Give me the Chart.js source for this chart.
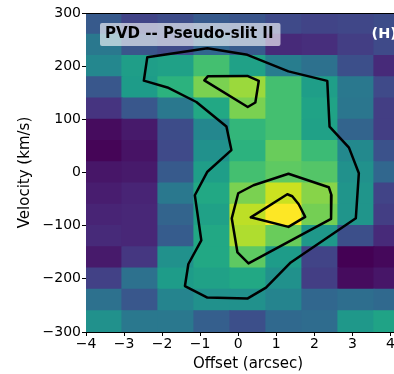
<!DOCTYPE html>
<html>
<head>
<meta charset="utf-8">
<script src="https://cdn.jsdelivr.net/npm/chart.js@4.4.1/dist/chart.umd.min.js"></script>
<style>
    html, body { margin: 0; padding: 0; background: #fff; overflow: hidden; }
    #wrap { width: 394px; height: 374px; overflow: hidden; }
</style>
</head>
<body>
<div id="wrap"><canvas id="chart" width="420" height="374"></canvas></div>
<script>
    /*
    ----------------------------------
         Data: PV diagram pixels
    ----------------------------------
    */

    // column centres (arcsec) and row centres (km/s) of the pixel grid
    var offsets = [-3.527, -2.581, -1.635, -0.689, 0.257, 1.203, 2.149, 3.095, 4.041];
    var offsetStep = 0.946;
    var velocities = [280, 240, 200, 160, 120, 80, 40, 0, -40, -80, -120, -160, -200, -240, -280];
    var velocityStep = 40;

    // normalised flux, one row per velocity (top row first)
    var flux = [
        [0.28, 0.20, 0.23, 0.28, 0.26, 0.22, 0.20, 0.21, 0.23],
        [0.40, 0.26, 0.22, 0.33, 0.28, 0.12, 0.13, 0.18, 0.22],
        [0.46, 0.56, 0.57, 0.70, 0.57, 0.42, 0.37, 0.24, 0.12],
        [0.27, 0.55, 0.64, 0.80, 0.85, 0.70, 0.56, 0.40, 0.22],
        [0.15, 0.27, 0.40, 0.60, 0.80, 0.70, 0.58, 0.39, 0.18],
        [0.03, 0.07, 0.23, 0.46, 0.66, 0.70, 0.57, 0.32, 0.18],
        [0.01, 0.05, 0.22, 0.50, 0.64, 0.77, 0.68, 0.47, 0.25],
        [0.06, 0.07, 0.28, 0.56, 0.70, 0.75, 0.73, 0.50, 0.33],
        [0.08, 0.10, 0.40, 0.60, 0.80, 0.92, 0.82, 0.52, 0.20],
        [0.10, 0.11, 0.32, 0.57, 0.90, 1.00, 0.79, 0.52, 0.18],
        [0.12, 0.11, 0.29, 0.60, 0.88, 0.77, 0.53, 0.24, 0.12],
        [0.07, 0.16, 0.50, 0.60, 0.75, 0.55, 0.20, 0.00, 0.02],
        [0.19, 0.37, 0.55, 0.57, 0.60, 0.50, 0.18, 0.03, 0.06],
        [0.37, 0.27, 0.45, 0.50, 0.50, 0.45, 0.33, 0.36, 0.34],
        [0.50, 0.40, 0.40, 0.30, 0.24, 0.34, 0.35, 0.53, 0.58]
    ];

    // contour levels, traced as closed polygons
    var outerX = [-2.39, -0.81, 0.24, 1.32, 2.34, 2.40, 2.91, 3.17, 3.09, 1.38, 0.73, 0.24, -0.81, -1.40, -1.31, -0.97, -1.14, -0.81, -0.18, -0.31, -0.81, -1.10, -1.86, -2.48, -2.39];
    var outerY = [216.6, 233.6, 221.3, 190.2, 172.3, 86.4, 46.8, -1.3, -86.2, -169.2, -216.4, -237.2, -235.3, -213.6, -172.1, -127.7, -42.8, 1.5, 42.1, 86.4, 115.7, 132.6, 160.0, 172.8, 216.6];

    var upperX = [-0.89, -0.80, 0.24, 0.54, 0.45, 0.25, -0.89];
    var upperY = [173.2, 180.8, 181.7, 172.3, 131.7, 123.2, 173.2];

    var middleX = [1.32, 2.38, 2.45, 2.44, 0.27, -0.02, -0.17, 0.00, 0.40, 1.32];
    var middleY = [-2.3, -27.7, -42.8, -87.2, -171.1, -150.4, -86.2, -39.0, -24.0, -2.3];

    var peakX = [0.33, 1.29, 1.42, 1.59, 1.76, 1.32, 0.33];
    var peakY = [-84.3, -40.9, -44.7, -59.8, -83.4, -102.3, -84.3];

    var xTicks = [-4, -3, -2, -1, 0, 1, 2, 3, 4];
    var yTicks = [-300, -200, -100, 0, 100, 200, 300];

    var panelLabel = 'PVD -- Pseudo-slit II';
    var panelTag = '(H)';

    /*
    ----------------------------------
         Colour map (viridis)
    ----------------------------------
    */

    var viridisStops = [
        '#440154', '#471365', '#482475', '#463480', '#414487', '#3b528b', '#355f8d',
        '#2f6c8e', '#2a788e', '#25848e', '#21918c', '#1e9c89', '#22a884', '#2fb47c',
        '#44bf70', '#5ec962', '#7ad151', '#9bd93c', '#bddf26', '#dfe318', '#fde725'
    ];

    function hexToRgb(hex) {
        var n = parseInt(hex.slice(1), 16);
        return [(n >> 16) & 255, (n >> 8) & 255, n & 255];
    }

    function viridis(v) {
        v = Math.max(0, Math.min(1, v));
        var pos = v * (viridisStops.length - 1);
        var i = Math.min(Math.floor(pos), viridisStops.length - 2);
        var t = pos - i;
        var a = hexToRgb(viridisStops[i]);
        var b = hexToRgb(viridisStops[i + 1]);
        var rgb = a.map((c, k) => Math.round(c + (b[k] - c) * t));
        return 'rgb(' + rgb.join(',') + ')';
    }

    /*
    ----------------------------------
         Datasets
    ----------------------------------
    */

    var cells = [];
    var cellColors = [];

    velocities.forEach((vel, r) => {
        offsets.forEach((off, c) => {
            cells.push({ x: off, y: [vel - velocityStep / 2, vel + velocityStep / 2] });
            cellColors.push(viridis(flux[r][c]));
        });
    });

    function contour(xs, ys) {
        return {
            type: 'line',
            data: xs.map((x, i) => ({ x: x, y: ys[i] })),
            borderColor: '#000',
            borderWidth: 2.5,
            borderJoinStyle: 'round',
            borderCapStyle: 'round',
            pointRadius: 0,
            fill: false,
            tension: 0,
            order: 1
        };
    }

    var minusSign = v => (v < 0 ? '\u2212' + Math.abs(v) : String(v));

    const annotations = {
        id: 'annotations',
        afterDatasetsDraw(chart) {
            const { ctx, chartArea } = chart;
            ctx.save();

            // top spine
            ctx.strokeStyle = '#000';
            ctx.lineWidth = 1;
            ctx.beginPath();
            ctx.moveTo(chartArea.left, chartArea.top + 0.5);
            ctx.lineTo(chartArea.right, chartArea.top + 0.5);
            ctx.stroke();

            // panel label in a translucent box
            ctx.font = 'bold 15px "DejaVu Sans"';
            const w = ctx.measureText(panelLabel).width;
            const bx = chartArea.left + 14;
            const by = chartArea.top + 10;
            ctx.fillStyle = 'rgba(255,255,255,0.62)';
            ctx.beginPath();
            ctx.roundRect(bx, by, w + 12, 23, 2);
            ctx.fill();
            ctx.fillStyle = '#000';
            ctx.textBaseline = 'middle';
            ctx.fillText(panelLabel, bx + 5, by + 11.5);

            ctx.font = 'bold 14.5px "DejaVu Sans"';
            ctx.fillStyle = '#fff';
            ctx.fillText(panelTag, chartArea.left + 285.5, chartArea.top + 21);
            ctx.restore();
        }
    };

    Chart.defaults.font.family = '"DejaVu Sans"';
    Chart.defaults.color = '#000';

    new Chart(document.getElementById('chart'), {
        type: 'bar',
        data: {
            datasets: [
                {
                    data: cells,
                    backgroundColor: cellColors,
                    borderWidth: 0,
                    barPercentage: 1,
                    categoryPercentage: 1,
                    inflateAmount: 0.6,
                    grouped: false,
                    order: 2
                },
                contour(outerX, outerY),
                contour(upperX, upperY),
                contour(middleX, middleY),
                contour(peakX, peakY)
            ]
        },
        options: {
            responsive: false,
            animation: false,
            events: [],
            layout: {
                padding: { top: 13, right: 10, left: 0, bottom: 0 }
            },
            plugins: {
                legend: { display: false },
                tooltip: { enabled: false }
            },
            scales: {
                x: {
                    type: 'linear',
                    min: -4,
                    max: -4 + offsets.length * offsetStep,
                    offset: false,
                    z: 1,
                    afterBuildTicks: scale => { scale.ticks = xTicks.map(v => ({ value: v })); },
                    afterFit: scale => { scale.height = 42; },
                    grid: {
                        display: true,
                        offset: false,
                        drawOnChartArea: false,
                        drawTicks: true,
                        tickLength: 4,
                        color: '#000'
                    },
                    border: { display: true, color: '#000', width: 1 },
                    ticks: {
                        padding: 0,
                        maxRotation: 0,
                        autoSkip: false,
                        font: { size: 14 },
                        callback: minusSign
                    },
                    title: {
                        display: true,
                        text: 'Offset (arcsec)',
                        font: { size: 15 },
                        padding: { top: 0, bottom: 1 }
                    }
                },
                y: {
                    type: 'linear',
                    min: -300,
                    max: 300,
                    z: 1,
                    afterBuildTicks: scale => { scale.ticks = yTicks.map(v => ({ value: v })); },
                    afterFit: scale => { scale.width = 86; },
                    grid: {
                        display: true,
                        drawOnChartArea: false,
                        drawTicks: true,
                        tickLength: 4,
                        color: '#000'
                    },
                    border: { display: true, color: '#000', width: 1 },
                    ticks: {
                        padding: 1,
                        font: { size: 14 },
                        callback: minusSign
                    },
                    title: {
                        display: true,
                        text: 'Velocity (km/s)',
                        font: { size: 15 },
                        padding: { top: 16, bottom: 0 }
                    }
                }
            }
        },
        plugins: [annotations]
    });
</script>
</body>
</html>
